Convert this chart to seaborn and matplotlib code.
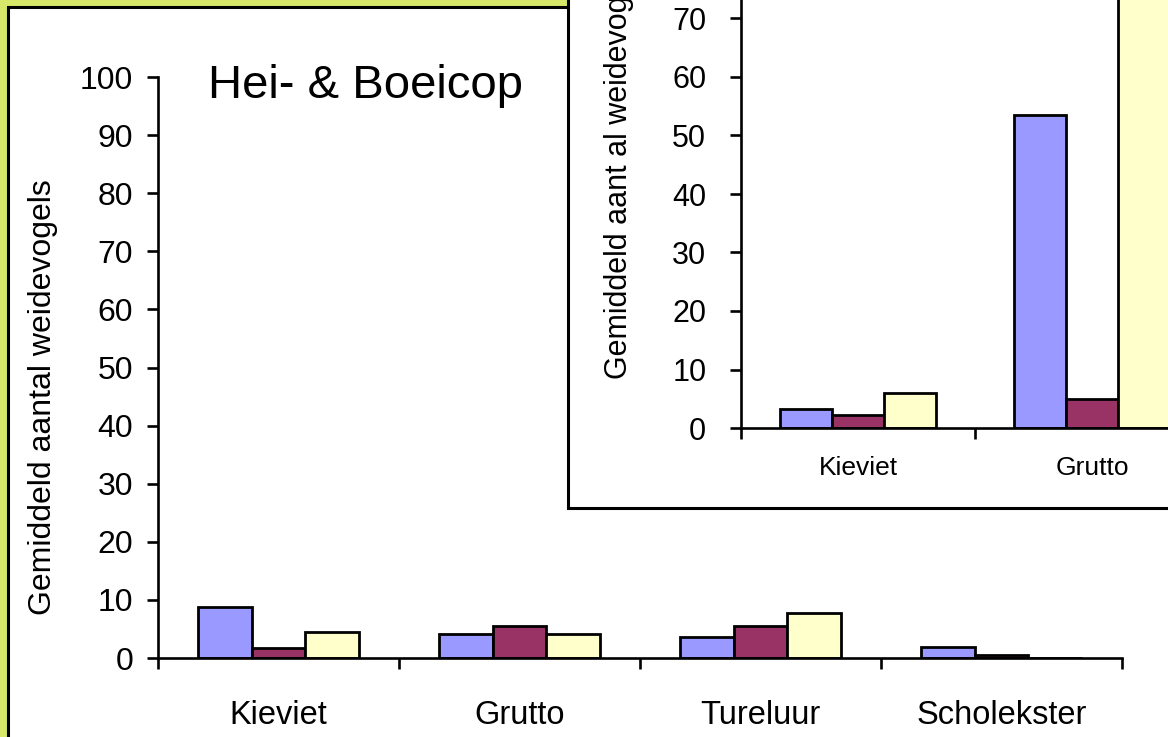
import pandas as pd
import seaborn as sns
import matplotlib.pyplot as plt
from matplotlib.patches import Rectangle

# Data
soorten = ["Kieviet", "Grutto", "Tureluur", "Scholekster"]
series = ["reeks 1", "reeks 2", "reeks 3"]
reeks_1 = [8.7, 4.1, 3.6, 1.9]
reeks_2 = [1.8, 5.5, 5.5, 0.5]
reeks_3 = [4.5, 4.1, 7.8, 0.0]

# Inset chart (only the first two categories are visible)
inset_soorten = ["Kieviet", "Grutto"]
inset_reeks_1 = [3.2, 53.5]
inset_reeks_2 = [2.3, 5.0]
inset_reeks_3 = [5.9, 80.0]

kleuren = ["#9999FF", "#993366", "#FFFFCC"]
achtergrond = "#D6E76A"

W, H = 1168, 737


def make_df(cats, a, b, c):
    rows = []
    for naam, vals in zip(series, [a, b, c]):
        for cat, v in zip(cats, vals):
            rows.append({"soort": cat, "reeks": naam, "aantal": v})
    return pd.DataFrame(rows)


def style_axes(ax, n_cat, ytick_size, xtick_size, xpad, ypad):
    for side in ["top", "right"]:
        ax.spines[side].set_visible(False)
    for side in ["left", "bottom"]:
        ax.spines[side].set_linewidth(1.9)
        ax.spines[side].set_color("black")
    ax.set_xlabel("")
    ax.set_ylabel("")
    ax.set_xlim(-0.5, n_cat - 0.5)
    ax.set_xticks([i - 0.5 for i in range(n_cat + 1)], minor=True)
    ax.tick_params(axis="x", which="major", bottom=True, length=0, pad=xpad,
                   labelsize=xtick_size, labelcolor="black")
    ax.tick_params(axis="x", which="minor", bottom=True, length=8, width=1.9,
                   direction="out", color="black")
    ax.tick_params(axis="y", left=True, length=8, width=1.9, pad=ypad,
                   direction="out", color="black",
                   labelsize=ytick_size, labelcolor="black")
    ax.set_facecolor("none")
    ax.grid(False)


sns.set_style("white")
plt.rcParams["font.family"] = ["Liberation Sans", "DejaVu Sans"]
plt.rcParams["text.color"] = "black"

fig = plt.figure(figsize=(W / 100, H / 100), dpi=100)
fig.patch.set_facecolor(achtergrond)

# main white panel with black border
main_panel = Rectangle((7.5 / W, -0.2), 2.0, 1.2 - 7.5 / H, transform=fig.transFigure,
                       facecolor="white", edgecolor="black", linewidth=2.2, zorder=0)
fig.add_artist(main_panel)

# main chart
ax = fig.add_axes([158 / W, 1 - 658 / H, (1122 - 158) / W, (658 - 77) / H])
ax.set_zorder(1)
df = make_df(soorten, reeks_1, reeks_2, reeks_3)
sns.barplot(data=df, x="soort", y="aantal", hue="reeks", palette=kleuren,
            saturation=1, width=0.67, edgecolor="black", linewidth=2.0,
            legend=False, ax=ax)
ax.set_ylim(0, 100)
ax.set_yticks(range(0, 101, 10))
style_axes(ax, len(soorten), 23, 23.5, 30, 10)

fig.text(208 / W, 1 - 98 / H, "Hei- & Boeicop", fontsize=34, va="baseline", ha="left")
fig.text(43 / W, 1 - 397 / H, "Gemiddeld aantal weidevogels", rotation=90,
         fontsize=23, va="center", ha="center")

# inset panel
inset_panel = Rectangle((568 / W, 1 - 508 / H), 2.0, 2.0, transform=fig.transFigure,
                        facecolor="white", edgecolor="black", linewidth=2.2, zorder=2)
fig.add_artist(inset_panel)

ax2 = fig.add_axes([741 / W, 1 - 428 / H, 468 / W, 526.5 / H])
ax2.set_zorder(3)
df2 = make_df(inset_soorten, inset_reeks_1, inset_reeks_2, inset_reeks_3)
sns.barplot(data=df2, x="soort", y="aantal", hue="reeks", palette=kleuren,
            saturation=1, width=0.67, edgecolor="black", linewidth=2.0,
            legend=False, ax=ax2)
ax2.set_ylim(0, 90)
ax2.set_yticks(range(0, 91, 10))
style_axes(ax2, len(inset_soorten), 22, 19, 20, 17)

fig.text(619 / W, 1 - 168 / H, "Gemiddeld aant al weidevogels", rotation=90,
         fontsize=22, va="center", ha="center", zorder=4)

fig.savefig("out.png", dpi=100, facecolor=fig.get_facecolor())
